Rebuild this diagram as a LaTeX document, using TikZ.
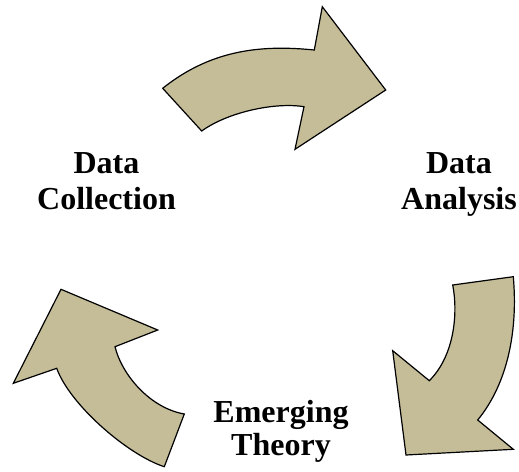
\documentclass[tikz,border=0pt]{standalone}
\usepackage{fontspec}
\setmainfont{Liberation Serif}
\definecolor{arrowtan}{HTML}{C4BD97}
\begin{document}
\begin{tikzpicture}[x=1pt,y=-1pt,
  cyclearrow/.style={fill=arrowtan,draw=black,line width=1.2pt,line join=miter},
  stagelabel/.style={align=center,inner sep=0pt,font=\fontsize{32}{36}\selectfont\bfseries}]
\useasboundingbox (0,0) rectangle (519,471);

% upper arrow: collection -> analysis
\draw[cyclearrow] (162.7,88.3)
  .. controls (212.7,48.3) and (264.3,45) .. (314.3,50)
  -- (322.3,6.7) -- (385.7,90) -- (295,149.3) -- (304,106.7)
  .. controls (275,102) and (228,112) .. (201.7,131) -- cycle;

% right arrow: analysis -> theory
\draw[cyclearrow] (452.7,285) -- (513.3,276.7)
  .. controls (518,330) and (508,383) .. (477.7,420)
  -- (513.3,449.3) -- (406,455) -- (392.7,350.7) -- (429.3,380.7)
  .. controls (455,355) and (458,312) .. (452.7,285) -- cycle;

% left arrow: theory -> collection
\draw[cyclearrow] (61,289.3) -- (157.7,330) -- (115,346.7)
  .. controls (122,375) and (150,408) .. (184.3,414)
  -- (164.3,466.7)
  .. controls (128,455) and (70,405) .. (56.7,368.3)
  -- (13.3,383.3) -- cycle;

\node[stagelabel] (collection) at (106.5,181.3) {Data\\Collection};
\node[stagelabel] (analysis) at (459,184) {Data\\Analysis};
\node[stagelabel,font=\fontsize{32}{33}\selectfont\bfseries] (theory) at (281,431) {Emerging\\Theory};
\end{tikzpicture}
\end{document}
